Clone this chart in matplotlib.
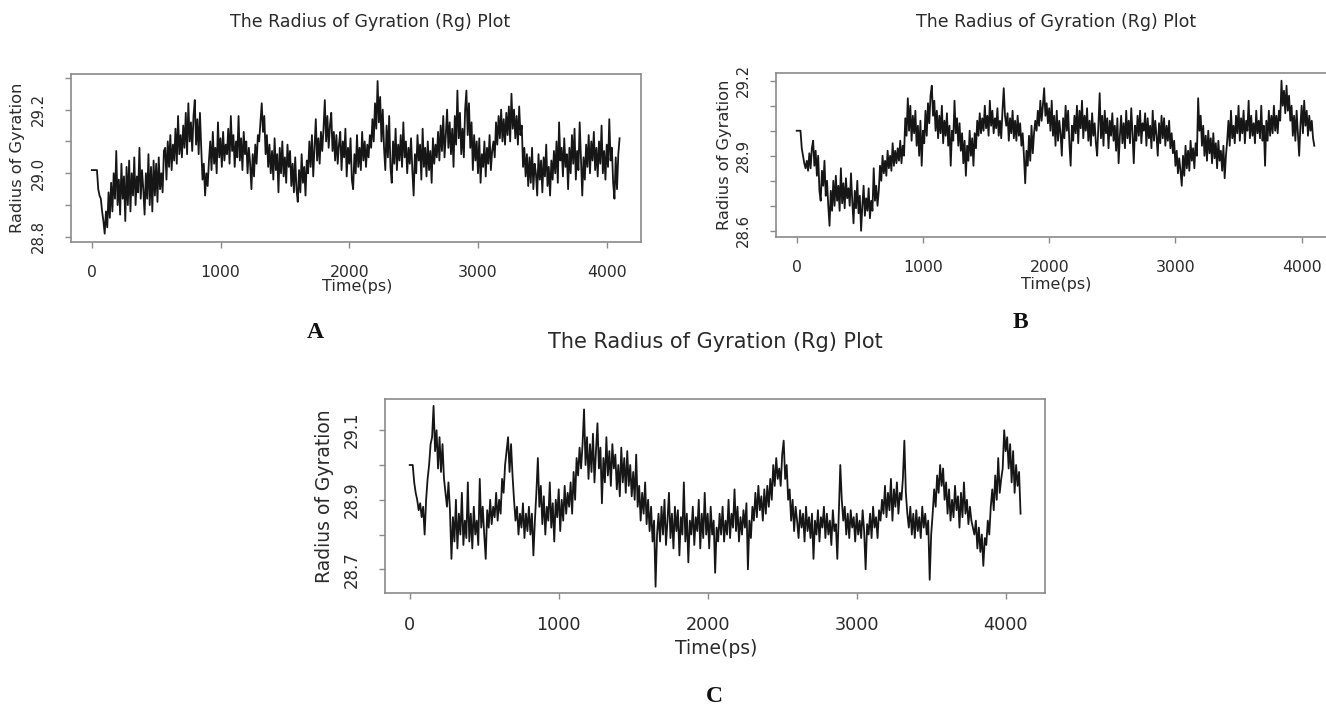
import numpy as np
import matplotlib
matplotlib.use("Agg")
import matplotlib.pyplot as plt

# ---------------- data (10 ps sampling) ----------------
time_step_ps = 10

rg_a = [
    29.01, 29.01, 29.01, 29.01, 29.01, 28.95, 28.93, 28.92, 28.88, 28.85,
    28.81, 28.88, 28.83, 28.94, 28.86, 28.97, 28.88, 29.00, 28.92, 29.07,
    28.90, 28.98, 28.87, 29.03, 28.92, 28.99, 28.85, 29.02, 28.90, 29.04,
    28.88, 29.00, 28.93, 29.05, 28.90, 28.99, 28.94, 29.08, 28.92, 29.01,
    28.95, 28.87, 29.00, 28.92, 29.06, 28.90, 29.02, 28.88, 29.04, 28.93,
    29.03, 28.91, 29.05, 28.95, 29.00, 28.94, 29.07, 29.08, 28.98, 29.10,
    29.02, 29.12, 29.01, 29.09, 29.04, 29.14, 29.03, 29.18, 29.06, 29.12,
    29.05, 29.15, 29.08, 29.19, 29.06, 29.22, 29.10, 29.16, 29.07, 29.18,
    29.23, 29.09, 29.17, 29.06, 29.19, 29.08, 28.98, 29.03, 28.93, 29.00,
    28.96, 29.04, 29.10, 29.01, 29.13, 29.03, 29.08, 29.00, 29.16, 29.05,
    29.11, 29.02, 29.13, 29.04, 29.09, 29.06, 29.14, 29.03, 29.18, 29.07,
    29.12, 29.02, 29.10, 29.05, 29.18, 29.04, 29.11, 29.01, 29.13, 29.06,
    29.10, 29.00, 29.08, 29.03, 28.95, 29.06, 28.99, 29.09, 29.03, 29.12,
    29.10, 29.16, 29.22, 29.13, 29.18, 29.06, 29.12, 29.02, 29.09, 29.00,
    29.07, 28.98, 29.11, 29.01, 29.06, 28.94, 29.08, 29.00, 29.10, 28.99,
    29.05, 28.97, 29.09, 29.02, 29.07, 28.96, 29.03, 28.94, 29.05, 28.95,
    28.91, 29.01, 28.94, 29.06, 28.97, 29.02, 28.93, 29.04, 29.00, 29.10,
    29.02, 29.12, 28.99, 29.08, 29.17, 29.04, 29.11, 29.03, 29.13, 29.07,
    29.14, 29.23, 29.10, 29.18, 29.08, 29.15, 29.19, 29.07, 29.13, 29.04,
    29.12, 29.03, 29.09, 29.13, 29.01, 29.10, 29.05, 29.14, 28.99, 29.08,
    29.03, 29.11, 28.98, 28.95, 29.06, 29.00, 29.12, 29.02, 29.08, 29.01,
    29.13, 29.04, 29.10, 29.02, 29.09, 29.05, 29.12, 29.08, 29.17, 29.10,
    29.22, 29.14, 29.29, 29.16, 29.24, 29.10, 29.20, 29.08, 29.01, 29.15,
    29.05, 29.18, 29.02, 28.97, 29.10, 29.03, 29.14, 29.01, 29.09, 29.04,
    29.12, 29.02, 29.16, 29.05, 29.10, 29.00, 29.08, 29.03, 29.11, 29.01,
    28.93, 29.06, 29.00, 29.12, 29.04, 29.09, 28.98, 29.14, 29.02, 29.08,
    28.99, 29.10, 29.01, 29.07, 28.97, 29.11, 29.03, 29.09, 29.05, 29.13,
    29.04, 29.15, 29.07, 29.18, 29.05, 29.12, 29.20, 29.08, 29.16, 29.06,
    29.14, 29.02, 29.18, 29.09, 29.26, 29.11, 29.19, 29.06, 29.14, 29.05,
    29.20, 29.26, 29.12, 29.22, 29.08, 29.16, 29.01, 29.12, 29.04, 29.10,
    29.00, 29.11, 28.97, 29.06, 29.02, 29.10, 28.99, 29.08, 29.03, 29.12,
    29.01, 29.07, 29.10, 29.05, 29.16, 29.09, 29.18, 29.11, 29.20, 29.10,
    29.17, 29.09, 29.19, 29.12, 29.21, 29.10, 29.25, 29.14, 29.20, 29.11,
    29.18, 29.09, 29.21, 29.12, 29.15, 29.02, 29.08, 28.99, 29.06, 28.96,
    29.05, 28.97, 29.08, 28.95, 29.03, 29.00, 28.93, 29.06, 28.98, 29.04,
    28.94, 29.05, 28.99, 29.09, 28.96, 29.02, 28.93, 29.04, 28.98, 29.07,
    29.00, 29.10, 28.97, 29.16, 29.04, 29.08, 28.99, 29.11, 29.02, 29.06,
    28.95, 29.08, 29.00, 29.12, 29.03, 29.14, 28.98, 29.07, 29.01, 29.16,
    29.04, 28.93, 29.05, 28.98, 29.09, 29.02, 29.12, 29.00, 29.10, 29.04,
    29.13, 29.01, 29.08, 28.99, 29.10, 29.03, 29.15, 29.00, 29.07, 28.98,
    29.09, 29.02, 29.17, 29.04, 29.08, 28.97, 28.92, 29.05, 28.95, 29.06,
    29.11,
]

rg_b = [
    29.00, 29.00, 29.00, 29.00, 28.93, 28.90, 28.87, 28.85, 28.88, 28.84,
    28.91, 28.85, 28.93, 28.96, 28.86, 28.92, 28.82, 28.90, 28.76, 28.72,
    28.84, 28.78, 28.88, 28.74, 28.80, 28.70, 28.62, 28.76, 28.68, 28.80,
    28.70, 28.82, 28.72, 28.78, 28.68, 28.85, 28.71, 28.79, 28.69, 28.81,
    28.73, 28.77, 28.70, 28.83, 28.72, 28.63, 28.76, 28.69, 28.80, 28.67,
    28.74, 28.60, 28.70, 28.78, 28.66, 28.73, 28.68, 28.77, 28.65, 28.72,
    28.68, 28.85, 28.72, 28.78, 28.70, 28.76, 28.86, 28.80, 28.90, 28.83,
    28.88, 28.82, 28.92, 28.85, 28.90, 28.84, 28.95, 28.86, 28.92, 28.87,
    28.93, 28.88, 28.96, 28.87, 28.94, 28.90, 29.05, 28.98, 29.13, 29.00,
    29.10, 28.96, 29.06, 28.99, 29.08, 28.94, 29.02, 28.90, 29.04, 28.86,
    29.00, 28.95, 29.08, 28.98, 29.11, 29.03, 29.14, 29.18, 29.06, 29.12,
    29.00, 29.08, 28.97, 29.06, 28.99, 29.10, 28.95, 29.04, 28.98, 29.07,
    28.94, 29.02, 28.86, 29.00, 28.96, 29.12, 28.99, 29.05, 28.94, 29.03,
    28.92, 28.99, 28.87, 28.96, 28.82, 28.94, 28.88, 29.00, 28.90, 28.97,
    28.86, 28.99, 28.93, 29.04, 28.98, 29.07, 28.99, 29.05, 29.00, 29.10,
    29.01, 29.06, 28.98, 29.12, 29.02, 29.08, 28.99, 29.05, 29.01, 29.09,
    28.98, 29.04, 28.97, 29.08, 29.17, 29.06, 29.02, 29.07, 28.96, 29.05,
    28.99, 29.08, 28.97, 29.04, 28.96, 29.06, 28.98, 29.03, 28.94, 28.99,
    28.90, 28.79, 28.92, 28.86, 28.98, 28.88, 29.02, 28.91, 28.99, 29.04,
    29.00, 29.08, 29.02, 29.12, 29.04, 29.10, 29.17, 29.06, 29.11, 29.03,
    29.09, 29.00, 29.12, 28.98, 29.06, 28.94, 29.08, 28.96, 29.04, 28.99,
    28.90, 29.05, 28.97, 29.10, 29.00, 29.08, 28.95, 28.86, 29.02, 28.96,
    29.06, 28.99, 29.10, 28.95, 29.08, 29.01, 29.12, 28.97, 29.06, 29.00,
    29.09, 28.96, 29.04, 28.94, 29.07, 28.98, 29.03, 28.95, 28.90, 29.02,
    29.15, 28.97, 29.06, 28.94, 29.08, 28.99, 29.05, 28.93, 29.04, 28.98,
    29.07, 28.96, 29.02, 28.92, 29.05, 28.87, 28.98, 29.06, 28.95, 29.03,
    28.93, 29.08, 28.97, 29.04, 28.95, 29.09, 28.99, 28.87, 29.02, 28.96,
    29.06, 28.98, 29.08, 28.95, 29.03, 29.00, 29.07, 28.94, 29.05, 28.97,
    29.02, 28.93, 29.08, 28.96, 29.04, 28.98, 28.90, 29.03, 28.95, 29.06,
    28.97, 29.05, 28.94, 29.02, 28.96, 29.04, 28.93, 28.99, 28.91, 28.96,
    28.86, 28.92, 28.83, 28.89, 28.84, 28.78, 28.90, 28.82, 28.94, 28.85,
    28.92, 28.84, 28.96, 28.88, 28.93, 28.85, 28.95, 28.90, 29.13, 29.00,
    29.06, 28.94, 29.02, 28.90, 28.98, 28.88, 29.00, 28.91, 28.97, 28.87,
    28.99, 28.89, 28.95, 28.85, 28.96, 28.88, 28.92, 28.84, 28.94, 28.81,
    28.90, 28.96, 29.04, 28.94, 29.08, 28.97, 29.02, 28.95, 29.06, 28.99,
    29.10, 28.96, 29.05, 28.99, 29.08, 28.95, 29.04, 29.00, 29.12, 28.97,
    29.06, 28.98, 29.03, 28.95, 29.08, 28.99, 29.04, 28.97, 29.10, 28.96,
    29.02, 28.86, 29.04, 28.96, 29.08, 28.98, 29.06, 28.99, 29.10, 29.00,
    29.06, 28.99, 29.08, 29.04, 29.20, 29.10, 29.16, 29.07, 29.18, 29.08,
    29.14, 29.04, 29.10, 28.98, 29.06, 28.96, 29.08, 28.99, 28.90, 29.02,
    29.10, 28.99, 29.12, 29.02, 29.08, 28.98, 29.06, 29.00, 29.04, 28.97,
    28.94,
]

rg_c = [
    29.00, 29.00, 29.00, 28.95, 28.92, 28.90, 28.87, 28.89, 28.85, 28.88,
    28.80, 28.90, 28.96, 29.00, 29.06, 29.08, 29.17, 29.04, 29.10, 28.99,
    29.08, 28.98, 29.06, 28.96, 28.92, 28.88, 28.95, 28.87, 28.73, 28.85,
    28.78, 28.90, 28.76, 28.86, 28.80, 28.92, 28.77, 28.84, 28.79, 28.95,
    28.78, 28.86, 28.76, 28.88, 28.80, 28.84, 28.77, 28.96, 28.82, 28.88,
    28.80, 28.73, 28.87, 28.82, 28.90, 28.83, 28.88, 28.85, 28.92, 28.84,
    28.90, 28.86, 28.96, 28.92, 29.00, 29.04, 29.08, 28.98, 29.06, 28.97,
    28.90, 28.84, 28.88, 28.80, 28.86, 28.82, 28.89, 28.79, 28.86, 28.81,
    28.88, 28.80, 28.86, 28.74, 28.84, 28.92, 29.02, 28.88, 28.94, 28.83,
    28.91, 28.80, 28.88, 28.84, 28.95, 28.82, 28.89, 28.78, 28.90, 28.85,
    28.93, 28.81, 28.90, 28.84, 28.94, 28.86, 28.92, 28.88, 28.95, 28.86,
    28.98, 28.90, 29.02, 28.97, 29.05, 28.99, 29.06, 29.16, 29.00, 29.08,
    28.96, 29.06, 28.98, 29.09, 28.95, 29.04, 29.12, 28.99, 29.05, 28.89,
    29.02, 28.95, 29.08, 28.97, 29.04, 28.94, 29.06, 28.99, 29.03, 28.93,
    29.00, 28.91, 29.05, 28.95, 29.02, 28.92, 29.04, 28.94, 29.00, 28.91,
    28.98, 28.90, 29.03, 28.88, 28.94, 28.84, 28.92, 28.86, 28.95, 28.83,
    28.90, 28.81, 28.88, 28.78, 28.84, 28.65, 28.80, 28.86, 28.78, 28.88,
    28.80, 28.90, 28.77, 28.84, 28.92, 28.79, 28.86, 28.76, 28.88, 28.81,
    28.87, 28.74, 28.85, 28.80, 28.95, 28.78, 28.86, 28.72, 28.84, 28.80,
    28.88, 28.77, 28.85, 28.81, 28.90, 28.76, 28.86, 28.79, 28.92, 28.80,
    28.86, 28.76, 28.88, 28.80, 28.84, 28.69, 28.82, 28.78, 28.86, 28.80,
    28.88, 28.78, 28.84, 28.80, 28.90, 28.79, 28.86, 28.82, 28.93, 28.81,
    28.88, 28.78, 28.85, 28.80, 28.87, 28.82, 28.89, 28.70, 28.84, 28.79,
    28.88, 28.84, 28.92, 28.85, 28.94, 28.87, 28.91, 28.84, 28.93, 28.86,
    28.94, 28.88, 28.96, 28.90, 29.00, 28.94, 29.02, 28.96, 28.99, 28.94,
    29.03, 29.07, 28.96, 29.00, 28.90, 28.93, 28.84, 28.90, 28.81, 28.88,
    28.84, 28.79, 28.87, 28.82, 28.86, 28.78, 28.88, 28.81, 28.85, 28.79,
    28.86, 28.73, 28.84, 28.80, 28.87, 28.78, 28.85, 28.82, 28.88, 28.79,
    28.86, 28.80, 28.84, 28.77, 28.87, 28.81, 28.83, 28.73, 28.86, 29.00,
    28.90, 28.84, 28.88, 28.80, 28.86, 28.79, 28.87, 28.82, 28.85, 28.78,
    28.86, 28.80, 28.84, 28.79, 28.87, 28.81, 28.70, 28.83, 28.80, 28.86,
    28.79, 28.88, 28.82, 28.85, 28.79, 28.87, 28.84, 28.90, 28.86, 28.94,
    28.85, 28.92, 28.87, 28.96, 28.84, 28.93, 28.88, 28.95, 28.86, 28.92,
    28.90, 28.96, 29.07, 28.92, 28.86, 28.82, 28.88, 28.80, 28.86, 28.79,
    28.87, 28.81, 28.85, 28.79, 28.88, 28.82, 28.86, 28.80, 28.84, 28.67,
    28.80, 28.86, 28.93, 28.88, 28.97, 28.92, 29.00, 28.94, 28.99, 28.90,
    28.95, 28.86, 28.93, 28.84, 28.90, 28.85, 28.94, 28.87, 28.91, 28.82,
    28.92, 28.85, 28.95, 28.86, 28.90, 28.83, 28.88, 28.84, 28.82, 28.80,
    28.84, 28.76, 28.82, 28.75, 28.80, 28.71, 28.79, 28.77, 28.84, 28.80,
    28.88, 28.93, 28.87, 28.97, 28.90, 29.02, 28.92, 28.96, 28.99, 29.10,
    29.04, 29.08, 28.99, 29.06, 28.95, 29.04, 28.92, 29.00, 28.94, 28.98,
    28.86,
]

x_ticks = [0, 1000, 2000, 3000, 4000]
y_ticks_a = [28.8, 28.9, 29.0, 29.1, 29.2, 29.3]
y_labels_a = ["28.8", "", "29.0", "", "29.2", ""]
y_ticks_b = [28.6, 28.7, 28.8, 28.9, 29.0, 29.1, 29.2]
y_labels_b = ["28.6", "", "", "28.9", "", "", "29.2"]
y_ticks_c = [28.7, 28.8, 28.9, 29.0, 29.1]
y_labels_c = ["28.7", "", "28.9", "", "29.1"]

title_text = "The Radius of Gyration (Rg) Plot"
x_label = "Time(ps)"
y_label = "Radius of Gyration"
panel_letters = ["A", "B", "C"]

# ---------------- figure ----------------
W, H = 1326, 707
fig = plt.figure(figsize=(W / 100, H / 100), dpi=100)
plt.rcParams["font.family"] = ["DejaVu Sans"]

BOX = "#8a8a8a"
TXT = "#2a2a2a"
LINE = "#161616"


def px_rect(left, right, top, bottom):
    return [left / W, 1 - bottom / H, (right - left) / W, (bottom - top) / H]


def make_panel(rect, series, ylim, yticks, ylabels, fs_x, fs_y):
    ax = fig.add_axes(rect)
    t = np.arange(len(series)) * time_step_ps
    ax.plot(t, series, color=LINE, lw=1.3)
    ax.set_xlim(-164, 4264)
    ax.set_ylim(*ylim)
    ax.set_xticks(x_ticks)
    ax.set_xticklabels([str(v) for v in x_ticks])
    ax.set_yticks(yticks)
    ax.set_yticklabels(ylabels)
    for s in ax.spines.values():
        s.set_color(BOX)
        s.set_linewidth(1.2)
    ax.tick_params(axis="both", direction="out", length=4, width=1.0,
                   color=BOX, labelcolor=TXT)
    ax.tick_params(axis="x", pad=12, labelsize=fs_x)
    ax.tick_params(axis="y", pad=14, labelsize=fs_y)
    for lab in ax.get_yticklabels():
        lab.set_rotation(90)
        lab.set_va("center")
        lab.set_ha("right")
    return ax


ax_a = make_panel(px_rect(70.7, 640.7, 74, 242.3), rg_a, (28.783, 29.312),
                  y_ticks_a, y_labels_a, 11.3, 10.7)
ax_b = make_panel(px_rect(776, 1335, 72.7, 237.3), rg_b, (28.574, 29.232),
                  y_ticks_b, y_labels_b, 11.3, 10.7)
ax_c = make_panel(px_rect(385.3, 1045, 399.3, 593.3), rg_c, (28.631, 29.189),
                  y_ticks_c, y_labels_c, 12.7, 11.9)


def ftext(xp, yp, s, **kw):
    fig.text(xp / W, 1 - yp / H, s, ha="center", va="center", color=TXT, **kw)


# titles
ftext(370, 22, title_text, fontsize=12.5)
ftext(1056, 22, title_text, fontsize=12.5)
ftext(715, 342, title_text, fontsize=15)

# x labels
ftext(357, 286, x_label, fontsize=11.5)
ftext(1056, 284, x_label, fontsize=11.5)
ftext(716, 649, x_label, fontsize=13.5)

# y labels
ftext(18, 158, y_label, fontsize=11.7, rotation=90)
ftext(725, 155, y_label, fontsize=11.7, rotation=90)
ftext(324, 496, y_label, fontsize=13.5, rotation=90)

# panel letters
for (xp, yp), letter in zip([(315, 333), (1020, 322), (714, 697)], panel_letters):
    fig.text(xp / W, 1 - yp / H, letter, ha="center", va="center",
             fontsize=17, fontweight="bold", family="Liberation Serif",
             color="#111111")

fig.savefig("out.png", dpi=100)
